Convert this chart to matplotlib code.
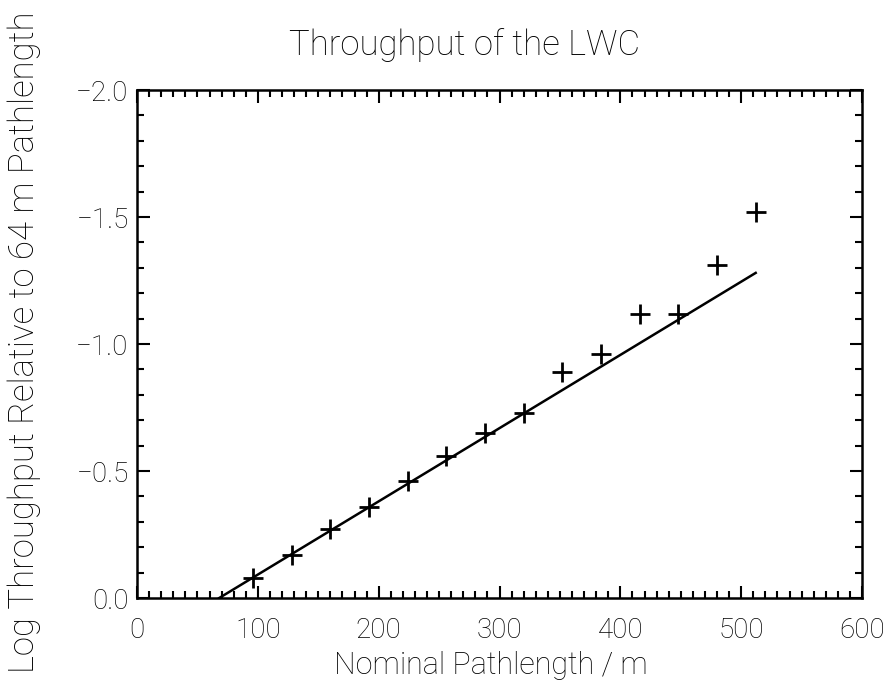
import matplotlib
matplotlib.use("Agg")
import matplotlib.pyplot as plt
from matplotlib.ticker import MultipleLocator, FuncFormatter

plt.rcParams['font.family'] = ['Roboto', 'DejaVu Sans']
plt.rcParams['font.weight'] = 'light'

# Data
path_m = [96, 128, 160, 192, 224, 256, 288, 320, 352, 384, 416, 448, 480, 512]
log_tp = [-0.08, -0.17, -0.27, -0.36, -0.46, -0.56, -0.65, -0.73, -0.89, -0.96,
          -1.12, -1.12, -1.31, -1.52]
fit_x = [68, 512]
fit_y = [0.0, -1.28]

x_ticks = [0, 100, 200, 300, 400, 500, 600]
y_ticks = [0.0, -0.5, -1.0, -1.5, -2.0]

fig = plt.figure(figsize=(8.92, 6.84), dpi=100)
ax = fig.add_axes([0.1536, 0.1257, 0.8128, 0.7427])

ax.plot(fit_x, fit_y, color='black', lw=1.8)
ax.plot(path_m, log_tp, linestyle='none', marker='+', markersize=14,
        markeredgewidth=2.0, color='black')

ax.set_xlim(0, 600)
ax.set_ylim(0.0, -2.0)
ax.set_xticks(x_ticks)
ax.set_yticks(y_ticks)
ax.yaxis.set_major_formatter(FuncFormatter(
    lambda v, p: ('\u2212' if v < -1e-9 else '') + '%.1f' % abs(v)))
ax.xaxis.set_minor_locator(MultipleLocator(10))
ax.yaxis.set_minor_locator(MultipleLocator(0.1))
ax.tick_params(which='both', direction='in', top=True, right=True,
               labeltop=False, labelright=False, width=1.5, color='black')
ax.tick_params(which='major', length=9, labelsize=20)
ax.tick_params(axis='x', which='major', pad=14)
ax.tick_params(axis='y', which='major', pad=6)
ax.tick_params(which='minor', length=5)
for s in ax.spines.values():
    s.set_linewidth(1.8)

fig.text(465 / 892, 1 - 45 / 684, 'Throughput of the LWC', fontsize=25,
         ha='center', va='center')
fig.text(491 / 892, 1 - 665 / 684, 'Nominal Pathlength / m', fontsize=22,
         ha='center', va='center')
fig.text(24 / 892, 0.5, 'Log Throughput Relative to 64 m Pathlength', fontsize=25,
         ha='center', va='center', rotation=90)

fig.savefig('out.png', dpi=100)
